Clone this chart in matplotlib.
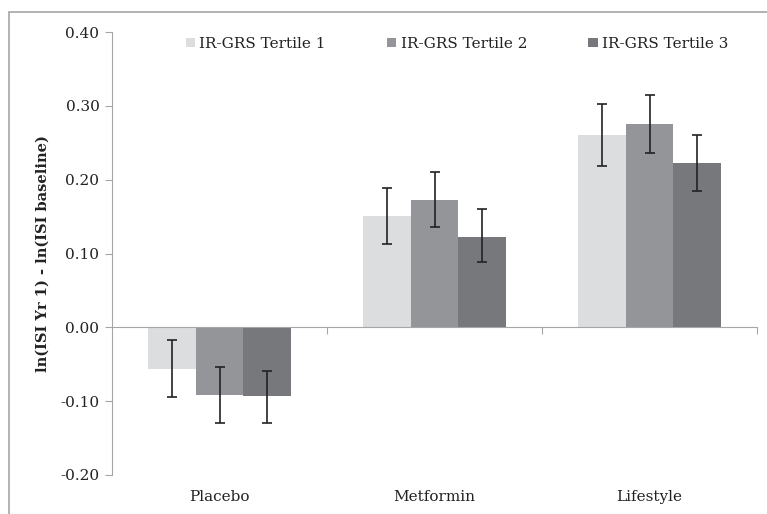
import matplotlib
matplotlib.use("Agg")
import matplotlib.pyplot as plt
from matplotlib.patches import Rectangle
import numpy as np

# data
groups = ["Placebo", "Metformin", "Lifestyle"]
series = ["IR-GRS Tertile 1", "IR-GRS Tertile 2", "IR-GRS Tertile 3"]
tertile1 = [-0.056, 0.151, 0.260]
tertile2 = [-0.091, 0.173, 0.275]
tertile3 = [-0.093, 0.123, 0.222]
err_low1 = [-0.095, 0.113, 0.218]
err_high1 = [-0.017, 0.189, 0.303]
err_low2 = [-0.130, 0.136, 0.236]
err_high2 = [-0.054, 0.210, 0.314]
err_low3 = [-0.129, 0.088, 0.184]
err_high3 = [-0.059, 0.160, 0.261]

colors = ["#dcdddf", "#939598", "#77787b"]

plt.rcParams['font.family'] = ['DejaVu Serif']

fig = plt.figure(figsize=(7.67, 5.14), dpi=100)
ax = fig.add_axes([112 / 767, 39 / 514, 645 / 767, 443 / 514])

# outer chart border (cut off at right and bottom like the reference)
fig.patches.append(Rectangle((9 / 767, -0.1), 1.2, 1.1 - 12 / 514,
                             transform=fig.transFigure, fill=False,
                             edgecolor="#a6a6a6", linewidth=1.2))

x = np.arange(len(groups))
w = 1 / 4.5  # excel gap width 150%
vals = [tertile1, tertile2, tertile3]
lows = [err_low1, err_low2, err_low3]
highs = [err_high1, err_high2, err_high3]

for i in range(3):
    v = np.array(vals[i])
    lo = v - np.array(lows[i])
    hi = np.array(highs[i]) - v
    ax.bar(x + (i - 1) * w, v, w, color=colors[i], label=series[i], zorder=2)
    ax.errorbar(x + (i - 1) * w, v, yerr=[lo, hi], fmt='none', ecolor='#222222',
                elinewidth=1.2, capsize=3.5, capthick=1.2, zorder=3)

ax.set_xlim(-0.5, 2.5)
ax.set_ylim(-0.20, 0.40)
yt = np.arange(-0.2, 0.41, 0.1)
ax.set_yticks(yt)
ax.set_yticklabels([f"{t:.2f}" for t in yt], fontsize=11)
ax.tick_params(axis='y', length=5, color='#a6a6a6', pad=4, labelcolor='#222222')

for s in ['top', 'right']:
    ax.spines[s].set_visible(False)
ax.spines['left'].set_color('#a6a6a6')
ax.spines['bottom'].set_color('#a6a6a6')
ax.spines['bottom'].set_position(('data', 0))

# category boundary ticks on the zero line
ax.set_xticks([0.5, 1.5, 2.5])
ax.set_xticklabels([])
ax.tick_params(axis='x', length=5, direction='out', color='#a6a6a6')

for xi, g in zip(x, groups):
    ax.text(xi, -0.05, g, transform=ax.get_xaxis_transform(), ha='center', va='center',
            fontsize=11, color='#222222')

ax.set_ylabel("ln(ISI Yr 1) - ln(ISI baseline)", fontsize=10.5, fontweight='bold',
              labelpad=8, color='#222222')

leg = ax.legend(loc='upper center', bbox_to_anchor=(0.535, 1.02), ncol=3, frameon=False,
                fontsize=11, handlelength=0.6, handleheight=0.6, handletextpad=0.3,
                columnspacing=4.0)
for t in leg.get_texts():
    t.set_color('#222222')

fig.savefig("out.png", dpi=100)
